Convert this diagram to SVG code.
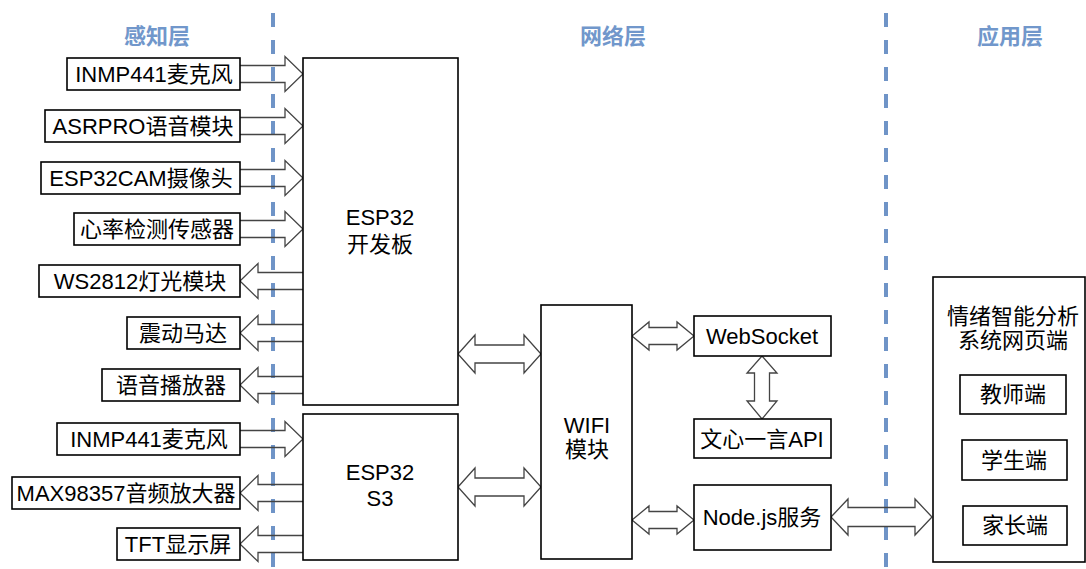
<svg xmlns="http://www.w3.org/2000/svg" xmlns:xlink="http://www.w3.org/1999/xlink" width="1086" height="569" viewBox="0 0 1086 569">
<style>
.box{fill:#fff;stroke:#000;stroke-width:1.6}
.t{font-family:"Liberation Sans","Noto Sans CJK SC",sans-serif;font-size:22px;fill:#000;text-anchor:middle}
.h{font-family:"Liberation Sans","Noto Sans CJK SC",sans-serif;font-size:22px;font-weight:bold;fill:#7197cb;text-anchor:middle}
.dash{stroke:#6f94c7;stroke-width:4;stroke-dasharray:14 13;fill:none}
.arr{fill:none;stroke:#444;stroke-width:1.3;stroke-linejoin:miter}
</style>
<defs>
<path id="arrIn" d="M0,-8.5 H45 V-17.5 L63,0 L45,17.5 V8.5 H0"/>
<path id="arrOut" d="M63,-8.5 H18 V-17.5 L0,0 L18,17.5 V8.5 H63"/>
</defs>
<g id="layers">
<line class="dash" x1="273" y1="13" x2="273" y2="569"/>
<line class="dash" x1="886" y1="13" x2="886" y2="569"/>
<text class="h" x="157" y="44">感知层</text>
<text class="h" x="613" y="44">网络层</text>
<text class="h" x="1010" y="44">应用层</text>
</g>
<g id="connectors">
<use href="#arrIn" class="arr" transform="translate(240,74)"/>
<use href="#arrIn" class="arr" transform="translate(240,126)"/>
<use href="#arrIn" class="arr" transform="translate(240,178)"/>
<use href="#arrIn" class="arr" transform="translate(240,229)"/>
<use href="#arrOut" class="arr" transform="translate(240,281)"/>
<use href="#arrOut" class="arr" transform="translate(240,333)"/>
<use href="#arrOut" class="arr" transform="translate(240,385)"/>
<use href="#arrIn" class="arr" transform="translate(240,439)"/>
<use href="#arrOut" class="arr" transform="translate(240,493)"/>
<use href="#arrOut" class="arr" transform="translate(240,544)"/>
<path class="arr" d="M458,354 L475,335 V345 H524 V335 L541,354 L524,373 V363 H475 V373 Z"/>
<path class="arr" d="M458,487 L475,468 V478 H524 V468 L541,487 L524,506 V496 H475 V506 Z"/>
<path class="arr" d="M632,336 L649,322 V327.5 H677 V322 L694,336 L677,350 V344.5 H649 V350 Z"/>
<path class="arr" d="M632,520 L649,506 V511.5 H677 V506 L694,520 L677,534 V528.5 H649 V534 Z"/>
<path class="arr" d="M762,356 L777,373 H769.5 V401 H777 L762,419 L747,401 H754.5 V373 H747 Z"/>
<path class="arr" d="M831,517 L848,499 V507.5 H915 V499 L932,517 L915,535 V526.5 H848 V535 Z"/>
</g>
<g id="n-inmp1"><rect class="box" x="67" y="58" width="173" height="32"/><text class="t" x="154" y="82">INMP441麦克风</text></g>
<g id="n-asrpro"><rect class="box" x="45" y="110" width="195" height="32"/><text class="t" x="143" y="134">ASRPRO语音模块</text></g>
<g id="n-cam"><rect class="box" x="41" y="162" width="199" height="32"/><text class="t" x="141" y="186">ESP32CAM摄像头</text></g>
<g id="n-heart"><rect class="box" x="74" y="213" width="166" height="32"/><text class="t" x="157" y="237">心率检测传感器</text></g>
<g id="n-ws2812"><rect class="box" x="39" y="265" width="201" height="32"/><text class="t" x="140" y="289">WS2812灯光模块</text></g>
<g id="n-motor"><rect class="box" x="127" y="317" width="113" height="32"/><text class="t" x="183" y="341">震动马达</text></g>
<g id="n-player"><rect class="box" x="102" y="369" width="138" height="32"/><text class="t" x="171" y="393">语音播放器</text></g>
<g id="n-inmp2"><rect class="box" x="57" y="423" width="183" height="32"/><text class="t" x="149" y="447">INMP441麦克风</text></g>
<g id="n-max"><rect class="box" x="12" y="477" width="228" height="32"/><text class="t" x="126" y="501">MAX98357音频放大器</text></g>
<g id="n-tft"><rect class="box" x="117" y="528" width="123" height="32"/><text class="t" x="178" y="552">TFT显示屏</text></g>
<g id="n-esp32"><rect class="box" x="303" y="58" width="155" height="347"/><text class="t" x="380" y="225">ESP32</text><text class="t" x="380" y="252">开发板</text></g>
<g id="n-esp32s3"><rect class="box" x="303" y="414" width="155" height="146"/><text class="t" x="380" y="480">ESP32</text><text class="t" x="380" y="506">S3</text></g>
<g id="n-wifi"><rect class="box" x="541" y="305" width="91" height="254"/><text class="t" x="587" y="433">WIFI</text><text class="t" x="587" y="457">模块</text></g>
<g id="n-websocket"><rect class="box" x="694" y="316" width="137" height="40"/><text class="t" x="762" y="344">WebSocket</text></g>
<g id="n-wenxin"><rect class="box" x="694" y="419" width="137" height="39"/><text class="t" x="762" y="447">文心一言API</text></g>
<g id="n-node"><rect class="box" x="694" y="485" width="137" height="65"/><text class="t" x="762" y="525">Node.js服务</text></g>
<g id="n-app"><rect class="box" x="933" y="277" width="152" height="285"/><text class="t" x="1013" y="324">情绪智能分析</text><text class="t" x="1013" y="348">系统网页端</text></g>
<g id="n-teacher"><rect class="box" x="960" y="375" width="106" height="39"/><text class="t" x="1013" y="402">教师端</text></g>
<g id="n-student"><rect class="box" x="962" y="440" width="105" height="40"/><text class="t" x="1014" y="468">学生端</text></g>
<g id="n-parent"><rect class="box" x="963" y="506" width="104" height="39"/><text class="t" x="1015" y="533">家长端</text></g>
</svg>
